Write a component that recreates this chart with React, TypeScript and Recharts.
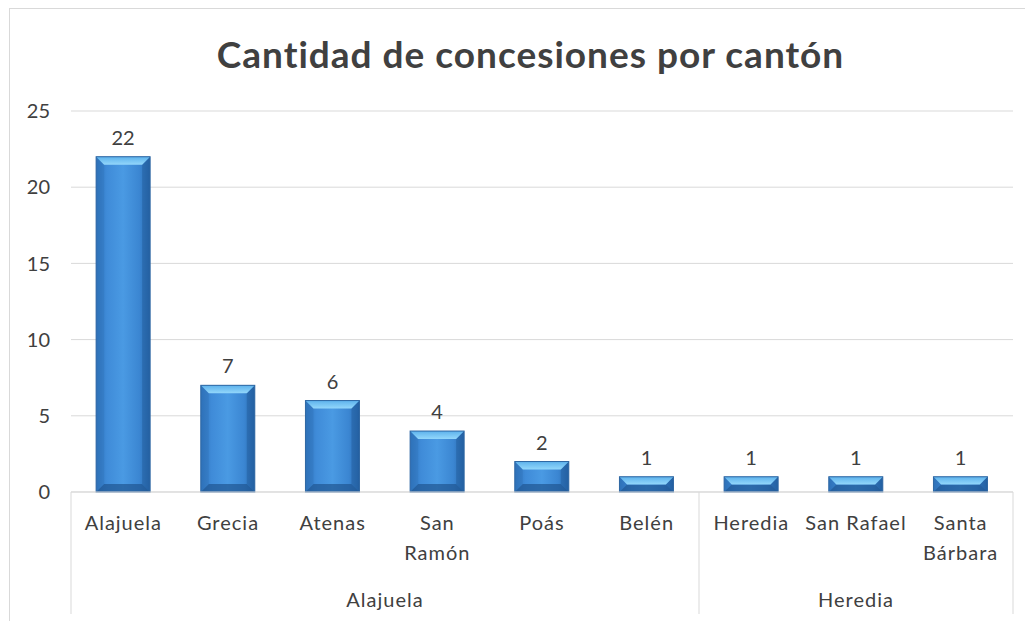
import { Bar, BarChart, CartesianGrid, LabelList, XAxis, YAxis } from "recharts";

const cantones = ["Alajuela", "Grecia", "Atenas", "San Ramón", "Poás", "Belén", "Heredia", "San Rafael", "Santa Bárbara"];
const tickLines = [["Alajuela"], ["Grecia"], ["Atenas"], ["San", "Ramón"], ["Poás"], ["Belén"], ["Heredia"], ["San Rafael"], ["Santa", "Bárbara"]];
const provincias = ["Alajuela", "Alajuela", "Alajuela", "Alajuela", "Alajuela", "Alajuela", "Heredia", "Heredia", "Heredia"];
const concesiones = [22, 7, 6, 4, 2, 1, 1, 1, 1];
const yTicks = [0, 5, 10, 15, 20, 25];

const data = cantones.map((c, i) => ({
  canton: c,
  provincia: provincias[i],
  value: concesiones[i],
}));

const FONT = "Lato, 'Noto Sans', sans-serif";
const TEXT = "#404040";
const GRID = "#d9d9d9";
const CHART_W = 1025;
const CHART_H = 613;
const Y_W = 63;
const M_RIGHT = 20;
const BAND = (CHART_W - Y_W - M_RIGHT) / cantones.length;

// bevelled blue bar, like the office chart style
function BevelBar(props: any) {
  const { x, y, width, height } = props;
  if (!height || height <= 0) return null;
  const b = Math.min(8, height / 2);
  return (
    <g>
      <rect x={x} y={y} width={width} height={height} fill="url(#barBody)" />
      <polygon
        points={`${x},${y} ${x + b},${y + b} ${x + b},${y + height - b} ${x},${y + height}`}
        fill="#2f6fb4"
        opacity={0.35}
      />
      <polygon
        points={`${x + width},${y} ${x + width - b},${y + b} ${x + width - b},${y + height - b} ${x + width},${y + height}`}
        fill="#1f5592"
        opacity={0.4}
      />
      <polygon
        points={`${x},${y + height} ${x + b},${y + height - b} ${x + width - b},${y + height - b} ${x + width},${y + height}`}
        fill="#1f5592"
        opacity={0.7}
      />
      <polygon
        points={`${x},${y} ${x + width},${y} ${x + width - b},${y + b} ${x + b},${y + b}`}
        fill="url(#barTop)"
      />
      <rect x={x} y={y} width={width} height={height} fill="none" stroke="#2e67a3" strokeWidth={1} />
    </g>
  );
}

function CantonTick(props: any) {
  const { x, y, payload } = props;
  const i = payload.index;
  const lines = tickLines[i];
  const left = x - BAND / 2;
  const right = x + BAND / 2;
  const sep = [];
  const starts = i === 0 || provincias[i] !== provincias[i - 1];
  if (starts) sep.push(left);
  if (i === cantones.length - 1) sep.push(right);
  let group = null;
  if (starts) {
    let j = i;
    while (j + 1 < provincias.length && provincias[j + 1] === provincias[i]) j++;
    const cx = left + ((j - i + 1) * BAND) / 2;
    group = (
      <text x={cx} y={y + 115} textAnchor="middle" fontSize={20} letterSpacing={1} fill={TEXT} fontFamily={FONT}>
        {provincias[i]}
      </text>
    );
  }
  return (
    <g>
      {lines.map((l, k) => (
        <text
          key={k}
          x={x}
          y={y + 38 + k * 30}
          textAnchor="middle"
          fontSize={20}
          letterSpacing={1}
          fill={TEXT}
          fontFamily={FONT}
        >
          {l}
        </text>
      ))}
      {sep.map((sx, k) => (
        <line key={k} x1={sx} y1={y} x2={sx} y2={y + 122} stroke={GRID} />
      ))}
      {group}
    </g>
  );
}

export default function App() {
  return (
    <div style={{ position: "relative", width: 1025, height: 613 }}>
      <div
        style={{
          position: "absolute",
          left: 1,
          top: 0,
          width: 1040,
          height: 640,
          border: "1px solid #d9d9d9",
          boxSizing: "border-box",
        }}
      />
      <div
        style={{
          position: "absolute",
          left: 0,
          top: 23,
          width: 1045,
          textAlign: "center",
          fontFamily: FONT,
          fontWeight: 700,
          fontSize: 37,
          letterSpacing: 1,
          color: TEXT,
          whiteSpace: "nowrap",
        }}
      >
        Cantidad de concesiones por cantón
      </div>
      <div style={{ position: "absolute", left: 0, top: 0 }}>
        <BarChart
          width={CHART_W}
          height={CHART_H}
          data={data}
          margin={{ top: 103, right: M_RIGHT, bottom: 0, left: 0 }}
          barCategoryGap="24%"
        >
          <defs>
            <linearGradient id="barBody" x1="0" y1="0" x2="1" y2="0">
              <stop offset="0%" stopColor="#2f73bb" />
              <stop offset="20%" stopColor="#3f8bd8" />
              <stop offset="50%" stopColor="#4a9ae3" />
              <stop offset="80%" stopColor="#3b86d2" />
              <stop offset="100%" stopColor="#2868ad" />
            </linearGradient>
            <linearGradient id="barTop" x1="0" y1="0" x2="0" y2="1">
              <stop offset="0%" stopColor="#5db2ec" />
              <stop offset="100%" stopColor="#93d7fb" />
            </linearGradient>
          </defs>
          <CartesianGrid vertical={false} stroke={GRID} />
          <XAxis
            dataKey="canton"
            interval={0}
            height={129}
            tickSize={0}
            tickMargin={0}
            axisLine={{ stroke: GRID }}
            tickLine={false}
            tick={<CantonTick />}
          />
          <YAxis
            width={Y_W}
            domain={[0, 25]}
            ticks={yTicks}
            axisLine={false}
            tickLine={false}
            tickSize={0}
            tickMargin={21}
            tick={{ fontSize: 20, fill: TEXT, fontFamily: FONT }}
          />
          <Bar dataKey="value" shape={<BevelBar />} isAnimationActive={false}>
            <LabelList dataKey="value" position="top" offset={12} fontSize={20} fill={TEXT} fontFamily={FONT} />
          </Bar>
        </BarChart>
      </div>
    </div>
  );
}
